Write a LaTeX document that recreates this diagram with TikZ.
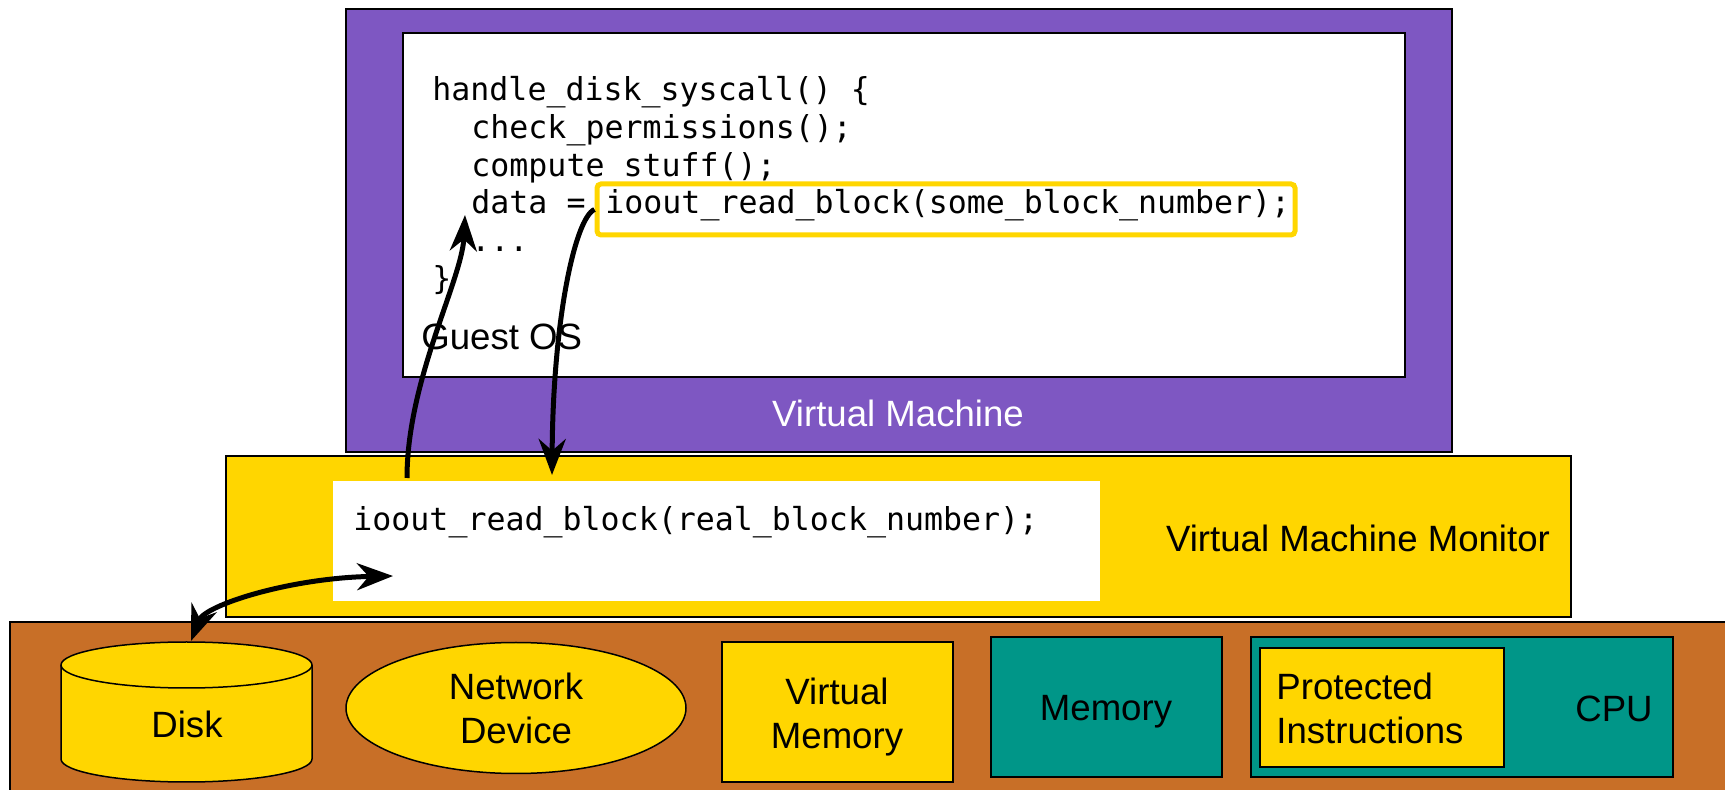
\documentclass[tikz,border=0pt]{standalone}
\usepackage{fontspec}
\setmainfont{Liberation Sans}
\newfontfamily\codefont{DejaVu Sans Mono}
\usetikzlibrary{arrows.meta,shapes.geometric,fit}
\definecolor{vmpurple}{RGB}{126,87,194}
\definecolor{gold}{RGB}{255,214,0}
\definecolor{hwbrown}{RGB}{200,111,39}
\definecolor{hwteal}{RGB}{0,150,136}
\begin{document}
\begin{tikzpicture}[x=0.5pt,y=-0.5pt,
  region/.style={draw=black, line width=0.75pt, inner sep=0pt, outer sep=0pt},
  sans/.style={font=\fontsize{18.3}{22}\selectfont},
  code/.style={font=\codefont\fontsize{15.8}{19}\selectfont, inner sep=0pt, anchor=base west},
  flow/.style={line width=2.5pt, -{Stealth[length=18pt,width=13.5pt]}},
  twoway/.style={line width=2.5pt, {Stealth[length=18pt,width=13.5pt]}-{Stealth[length=18pt,width=13.5pt]}}]
\useasboundingbox (0,0) rectangle (1725,790);

% ---- hardware layer ----
\node[region, fill=hwbrown, fit={(10,622) (1760,820)}] (hw) {};

% ---- virtual machine monitor ----
\node[region, fill=gold, fit={(226,456) (1571,617)}] (vmm) {};
\node[inner sep=0pt, fill=white, fit={(333,481) (1100,601)}] (vmmcode) {};
\node[code] (realcall) at (353,531) {ioout\_read\_block(real\_block\_number);};
\node[sans] (vmmlabel) at (1358,538) {Virtual Machine Monitor};

% ---- virtual machine and guest OS ----
\node[region, fill=vmpurple, fit={(346,9) (1452,452)}] (vm) {};
\node[region, line width=1pt, fill=white, fit={(403,33) (1405,377)}] (guest) {};
\node[sans, text=white] (vmlabel) at (898,413) {Virtual Machine};
\node[sans, anchor=base west, inner sep=0pt] (guestlabel) at (421,350) {Guest OS};

\node[code] (l1) at (432,101) {handle\_disk\_syscall() \{};
\node[code] (l2) at (471,139) {check\_permissions();};
\node[code] (l3) at (471,177) {compute\_stuff();};
\node[code] (l4) at (471,214) {data =};
\node[code] (l5) at (471,252) {...};
\node[code] (l6) at (432,290) {\}};
\node[draw=gold, line width=2.5pt, rounded corners=2pt, inner sep=0pt, fit={(597,184) (1295,235)}] (hl) {};
\node[code] (guestcall) at (605,214) {ioout\_read\_block(some\_block\_number);};

% ---- devices ----
\node[inner sep=0pt, fit={(61,642) (312,782)}] (disk) {};
\draw[region, fill=gold]
  (61,665) -- (61,759) arc[start angle=180, end angle=360, x radius=62.75pt, y radius=11.5pt]
  -- (312,665) arc[start angle=0, end angle=180, x radius=62.75pt, y radius=11.5pt] -- cycle;
\draw[region] (61,665) arc[start angle=180, end angle=360, x radius=62.75pt, y radius=11.5pt];
\node[sans] (disklabel) at (187,724) {Disk};

\node[region, ellipse, fill=gold, minimum width=170pt, minimum height=65.5pt,
      sans, align=center] (net) at (516,708) {Network\\Device};

\node[region, fill=gold, fit={(722,642) (953,782)}] (vmem) {};
\node[sans, align=center] (vmemlabel) at (837,717) {Virtual\\Memory};

\node[region, fill=hwteal, fit={(991,637) (1222,777)}] (mem) {};
\node[sans] (memlabel) at (1106,712) {Memory};

\node[region, fill=hwteal, fit={(1251,637) (1673,777)}] (cpu) {};
\node[sans] (cpulabel) at (1614,709) {CPU};
\node[region, fill=gold, fit={(1260,648) (1504,767)}] (prot) {};
\node[sans, align=left, anchor=west, inner sep=0pt] (protlabel) at (1276,708) {Protected\\Instructions};

% ---- control flow ----
\coordinate (upstart) at (407,478);
\coordinate (upend) at (465,215);
\coordinate (downend) at (552,475);
\coordinate (disktop) at (191,641);
\coordinate (devend) at (393,576);

\draw[flow] (upstart) .. controls (407,380) and (462,280) .. (upend);
\draw[flow] (hl.west) .. controls (575,218) and (553,320) .. (downend);
\draw[twoway] (disktop) .. controls (205,605) and (290,578) .. (devend);
\end{tikzpicture}
\end{document}
